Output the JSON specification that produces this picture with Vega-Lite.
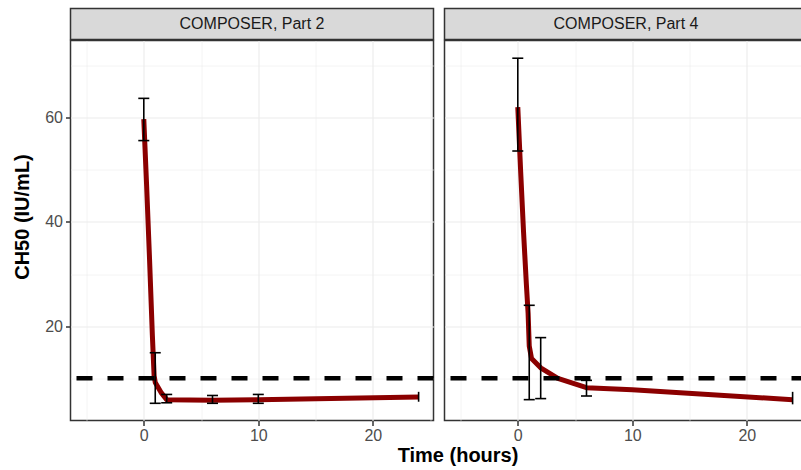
{
  "$schema": "https://vega.github.io/schema/vega-lite/v6.json",
  "autosize": {"type": "pad"},
  "padding": {"left": 10.5, "top": 7.5, "right": -8, "bottom": 0},
  "bounds": "full",
  "spacing": -1.5,
  "background": "white",
  "config": {
    "font": "Liberation Sans",
    "view": {"stroke": "#333333", "strokeWidth": 1.5},
    "axis": {
      "labelFont": "Liberation Sans",
      "labelFontSize": 16,
      "labelColor": "#4D4D4D",
      "tickColor": "#333333",
      "tickWidth": 1.5,
      "tickSize": 5,
      "domain": false,
      "grid": true,
      "gridColor": "#EBEBEB",
      "titleFont": "Liberation Sans",
      "titleFontSize": 20,
      "titleFontWeight": "bold",
      "titleColor": "#000000"
    }
  },
  "datasets": {
    "strips": [
      {"panel": "COMPOSER, Part 2"},
      {"panel": "COMPOSER, Part 4"}
    ],
    "threshold": [
      {"ch50": 10}
    ],
    "curve": [
      {"panel": "COMPOSER, Part 2", "time": 0, "ch50": 59.7},
      {"panel": "COMPOSER, Part 2", "time": 0.25, "ch50": 46.8},
      {"panel": "COMPOSER, Part 2", "time": 0.5, "ch50": 33.0},
      {"panel": "COMPOSER, Part 2", "time": 0.75, "ch50": 18.2},
      {"panel": "COMPOSER, Part 2", "time": 0.9, "ch50": 10.5},
      {"panel": "COMPOSER, Part 2", "time": 1, "ch50": 9.2},
      {"panel": "COMPOSER, Part 2", "time": 1.5, "ch50": 7.3},
      {"panel": "COMPOSER, Part 2", "time": 2, "ch50": 5.9},
      {"panel": "COMPOSER, Part 2", "time": 6, "ch50": 5.8},
      {"panel": "COMPOSER, Part 2", "time": 10, "ch50": 5.9},
      {"panel": "COMPOSER, Part 2", "time": 24, "ch50": 6.4},
      {"panel": "COMPOSER, Part 4", "time": 0, "ch50": 62.0},
      {"panel": "COMPOSER, Part 4", "time": 0.25, "ch50": 49.7},
      {"panel": "COMPOSER, Part 4", "time": 0.5, "ch50": 38.2},
      {"panel": "COMPOSER, Part 4", "time": 0.75, "ch50": 28.0},
      {"panel": "COMPOSER, Part 4", "time": 0.9, "ch50": 22.5},
      {"panel": "COMPOSER, Part 4", "time": 1, "ch50": 16.2},
      {"panel": "COMPOSER, Part 4", "time": 1.2, "ch50": 13.8},
      {"panel": "COMPOSER, Part 4", "time": 2, "ch50": 12.0},
      {"panel": "COMPOSER, Part 4", "time": 3.5, "ch50": 10.0},
      {"panel": "COMPOSER, Part 4", "time": 6, "ch50": 8.2},
      {"panel": "COMPOSER, Part 4", "time": 10, "ch50": 7.8},
      {"panel": "COMPOSER, Part 4", "time": 24, "ch50": 5.9}
    ],
    "err": [
      {"panel": "COMPOSER, Part 2", "time": 0, "lo": 55.6, "hi": 63.7},
      {"panel": "COMPOSER, Part 2", "time": 1, "lo": 5.2, "hi": 14.9},
      {"panel": "COMPOSER, Part 2", "time": 2, "lo": 5.3, "hi": 6.9},
      {"panel": "COMPOSER, Part 2", "time": 6, "lo": 5.2, "hi": 6.7},
      {"panel": "COMPOSER, Part 2", "time": 10, "lo": 5.2, "hi": 6.9},
      {"panel": "COMPOSER, Part 2", "time": 24, "lo": 5.5, "hi": 7.4},
      {"panel": "COMPOSER, Part 4", "time": 0, "lo": 53.6, "hi": 71.4},
      {"panel": "COMPOSER, Part 4", "time": 1, "lo": 5.9, "hi": 24.0},
      {"panel": "COMPOSER, Part 4", "time": 2, "lo": 6.1, "hi": 17.8},
      {"panel": "COMPOSER, Part 4", "time": 6, "lo": 6.6, "hi": 9.6},
      {"panel": "COMPOSER, Part 4", "time": 24, "lo": 5.0, "hi": 7.4}
    ]
  },
  "vconcat": [
    {
      "bounds": "flush",
      "spacing": 11,
      "hconcat": [
        {
          "width": 363,
          "height": 31,
          "view": {"fill": "#D9D9D9", "stroke": "#333333", "strokeWidth": 1.5},
          "data": {"name": "strips"},
          "transform": [{"filter": "datum.panel === 'COMPOSER, Part 2'"}],
          "mark": {"type": "text", "fontSize": 16, "color": "#1A1A1A", "align": "center", "baseline": "middle", "font": "Liberation Sans"},
          "encoding": {"text": {"field": "panel"}}
        },
        {
          "width": 363,
          "height": 31,
          "view": {"fill": "#D9D9D9", "stroke": "#333333", "strokeWidth": 1.5},
          "data": {"name": "strips"},
          "transform": [{"filter": "datum.panel === 'COMPOSER, Part 4'"}],
          "mark": {"type": "text", "fontSize": 16, "color": "#1A1A1A", "align": "center", "baseline": "middle", "font": "Liberation Sans"},
          "encoding": {"text": {"field": "panel"}}
        }
      ]
    },
    {
      "bounds": "flush",
      "spacing": 11,
      "hconcat": [
        {
          "width": 363,
          "height": 380,
          "layer": [
            {
              "data": {"name": "curve"},
              "transform": [{"filter": "datum.panel === 'COMPOSER, Part 2'"}],
              "mark": {"type": "line", "color": "#8B0000", "strokeWidth": 5, "strokeJoin": "round"},
              "encoding": {
                "x": {
                  "field": "time", "type": "quantitative",
                  "scale": {"domain": [-6.4, 25.3], "nice": false, "zero": false},
                  "axis": {
                    "title": "Time (hours)",
                    "values": [-5, 0, 5, 10, 15, 20, 25],
                    "labelExpr": "datum.value % 10 === 0 ? datum.label : ''",
                    "tickOpacity": {"condition": {"test": "datum.value % 10 === 0", "value": 1}, "value": 0},
                    "gridWidth": {"condition": {"test": "datum.value % 10 === 0", "value": 1.1}, "value": 0.55},
                    "labelPadding": 2,
                    "titleX": 387,
                    "titleY": 41,
                    "titleAlign": "center",
                    "titleBaseline": "alphabetic"
                  }
                },
                "y": {
                  "field": "ch50", "type": "quantitative",
                  "scale": {"domain": [1.9, 74.8], "nice": false, "zero": false},
                  "axis": {
                    "title": "CH50 (IU/mL)",
                    "values": [10, 20, 30, 40, 50, 60, 70],
                    "labelExpr": "datum.value % 20 === 0 ? datum.label : ''",
                    "tickOpacity": {"condition": {"test": "datum.value % 20 === 0", "value": 1}, "value": 0},
                    "gridWidth": {"condition": {"test": "datum.value % 20 === 0", "value": 1.1}, "value": 0.55},
                    "labelPadding": 3,
                    "titleX": -42.5,
                    "titleY": 176,
                    "titleAngle": -90,
                    "titleAlign": "center",
                    "titleBaseline": "alphabetic"
                  }
                }
              }
            },
            {
              "data": {"name": "err"},
              "transform": [{"filter": "datum.panel === 'COMPOSER, Part 2'"}],
              "mark": {"type": "rule", "color": "#000000", "strokeWidth": 1.6},
              "encoding": {
                "x": {"field": "time", "type": "quantitative"},
                "y": {"field": "lo", "type": "quantitative"},
                "y2": {"field": "hi"}
              }
            },
            {
              "data": {"name": "err"},
              "transform": [
                {"filter": "datum.panel === 'COMPOSER, Part 2' && datum.time < 24"},
                {"fold": ["lo", "hi"], "as": ["bound", "v"]}
              ],
              "mark": {"type": "tick", "orient": "horizontal", "color": "#000000", "size": 11, "thickness": 1.6, "opacity": 1},
              "encoding": {
                "x": {"field": "time", "type": "quantitative"},
                "y": {"field": "v", "type": "quantitative"}
              }
            },
            {
              "data": {"name": "threshold"},
              "mark": {"type": "rule", "color": "#000000", "strokeWidth": 4.5, "strokeDash": [16, 15]},
              "encoding": {"y": {"field": "ch50", "type": "quantitative"}}
            }
          ]
        },
        {
          "width": 363,
          "height": 380,
          "layer": [
            {
              "data": {"name": "curve"},
              "transform": [{"filter": "datum.panel === 'COMPOSER, Part 4'"}],
              "mark": {"type": "line", "color": "#8B0000", "strokeWidth": 5, "strokeJoin": "round"},
              "encoding": {
                "x": {
                  "field": "time", "type": "quantitative",
                  "scale": {"domain": [-6.4, 25.3], "nice": false, "zero": false},
                  "axis": {
                    "title": null,
                    "values": [-5, 0, 5, 10, 15, 20, 25],
                    "labelExpr": "datum.value % 10 === 0 ? datum.label : ''",
                    "tickOpacity": {"condition": {"test": "datum.value % 10 === 0", "value": 1}, "value": 0},
                    "gridWidth": {"condition": {"test": "datum.value % 10 === 0", "value": 1.1}, "value": 0.55},
                    "labelPadding": 2
                  }
                },
                "y": {
                  "field": "ch50", "type": "quantitative",
                  "scale": {"domain": [1.9, 74.8], "nice": false, "zero": false},
                  "axis": {
                    "title": null,
                    "labels": false,
                    "ticks": false,
                    "values": [10, 20, 30, 40, 50, 60, 70],
                    "gridWidth": {"condition": {"test": "datum.value % 20 === 0", "value": 1.1}, "value": 0.55}
                  }
                }
              }
            },
            {
              "data": {"name": "err"},
              "transform": [{"filter": "datum.panel === 'COMPOSER, Part 4'"}],
              "mark": {"type": "rule", "color": "#000000", "strokeWidth": 1.6},
              "encoding": {
                "x": {"field": "time", "type": "quantitative"},
                "y": {"field": "lo", "type": "quantitative"},
                "y2": {"field": "hi"}
              }
            },
            {
              "data": {"name": "err"},
              "transform": [
                {"filter": "datum.panel === 'COMPOSER, Part 4' && datum.time < 24"},
                {"fold": ["lo", "hi"], "as": ["bound", "v"]}
              ],
              "mark": {"type": "tick", "orient": "horizontal", "color": "#000000", "size": 11, "thickness": 1.6, "opacity": 1},
              "encoding": {
                "x": {"field": "time", "type": "quantitative"},
                "y": {"field": "v", "type": "quantitative"}
              }
            },
            {
              "data": {"name": "threshold"},
              "mark": {"type": "rule", "color": "#000000", "strokeWidth": 4.5, "strokeDash": [16, 15]},
              "encoding": {"y": {"field": "ch50", "type": "quantitative"}}
            }
          ]
        }
      ]
    }
  ]
}
